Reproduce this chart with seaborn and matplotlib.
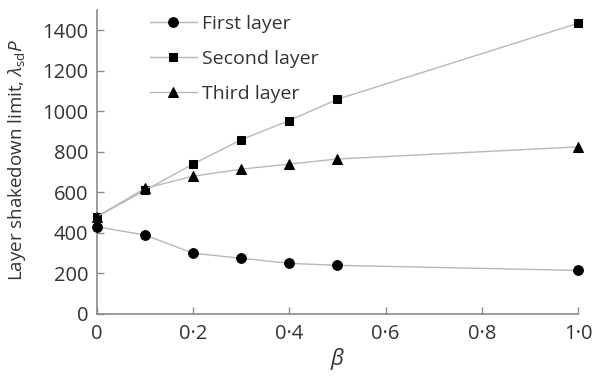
import pandas as pd
import matplotlib.pyplot as plt
import seaborn as sns
from matplotlib.ticker import FuncFormatter

# Data
beta = [0, 0.1, 0.2, 0.3, 0.4, 0.5, 1.0]
first_layer = [430, 390, 300, 275, 250, 240, 215]
second_layer = [480, 610, 740, 860, 955, 1060, 1435]
third_layer = [480, 620, 680, 715, 740, 765, 825]

series_names = ["First layer", "Second layer", "Third layer"]
series_markers = ["o", "s", "^"]

x_ticks = [0, 0.2, 0.4, 0.6, 0.8, 1.0]
y_ticks = [0, 200, 400, 600, 800, 1000, 1200, 1400]

sns.set_style("ticks")
plt.rcParams['font.family'] = ['Open Sans', 'DejaVu Sans']
plt.rcParams['mathtext.fontset'] = 'custom'
plt.rcParams['mathtext.it'] = 'Open Sans:italic'
plt.rcParams['mathtext.rm'] = 'Open Sans'

df = pd.DataFrame({
    'beta': beta * 3,
    'value': first_layer + second_layer + third_layer,
    'layer': [n for n in series_names for _ in beta],
})

fig = plt.figure(figsize=(5.94, 3.76), dpi=100)
ax = fig.add_axes([0.163, 0.165, 0.81, 0.808])

text_col = '#333333'
line_col = '#b8b8b8'
spine_col = '#8a8a8a'

for name, mk in zip(series_names, series_markers):
    sub = df[df['layer'] == name]
    sns.lineplot(data=sub, x='beta', y='value', ax=ax, color=line_col,
                 linewidth=1.0, marker=mk, markersize=7 if mk != 's' else 6,
                 markerfacecolor='black', markeredgecolor='black',
                 label=name, clip_on=False, zorder=3)

ax.set_xlim(0, 1.0)
ax.set_ylim(0, 1500)
ax.set_xticks(x_ticks)
ax.set_yticks(y_ticks)
ax.xaxis.set_major_formatter(FuncFormatter(
    lambda v, p: '0' if v == 0 else f"{v:.1f}".replace('.', '\u00b7')))

for s in ['top', 'right']:
    ax.spines[s].set_visible(False)
for s in ['left', 'bottom']:
    ax.spines[s].set_color(spine_col)
    ax.spines[s].set_linewidth(1.2)

ax.tick_params(axis='both', direction='in', length=5, width=1.0,
               color=spine_col, labelsize=14.5, labelcolor=text_col)
ax.tick_params(axis='x', pad=7)
ax.tick_params(axis='y', pad=6)

ax.set_xlabel(r'$\beta$', fontsize=16, color=text_col, labelpad=2)
ax.set_ylabel(r'Layer shakedown limit, $\lambda_{\mathrm{sd}}P$',
              fontsize=13.5, color=text_col)
ax.yaxis.set_label_coords(-0.143, 0.507)

leg = ax.legend(loc='upper left', bbox_to_anchor=(150 / 594, 1 - 15 / 376),
                bbox_transform=fig.transFigure, frameon=False,
                fontsize=14, handlelength=2.4, handletextpad=0.26,
                labelspacing=0.87, borderpad=0, borderaxespad=0)
for t in leg.get_texts():
    t.set_color(text_col)

plt.savefig('out.png', dpi=100)
plt.close()
